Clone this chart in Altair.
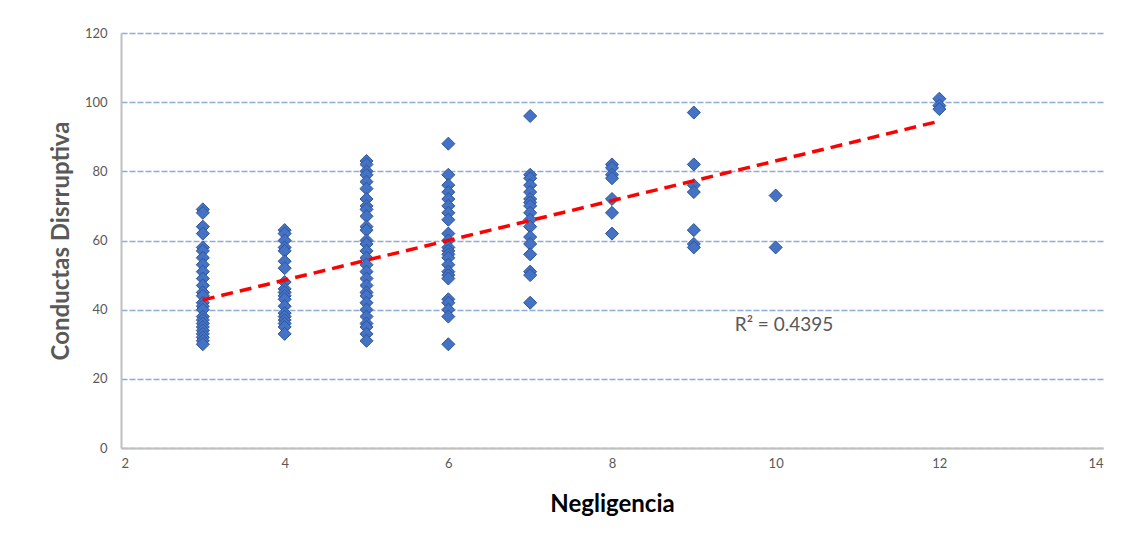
import altair as alt
import pandas as pd

# Negligencia value -> Conductas Disrruptiva values observed at that x
x3 = [69, 68, 64, 62, 58, 57, 55, 53, 51, 49, 47, 45, 44, 42, 41, 40, 38, 37, 36, 35, 34, 33, 32, 31, 30]
x4 = [63, 62, 60, 58, 57, 54, 52, 48, 46, 45, 44, 43, 41, 39, 38, 37, 36, 35, 33]
x5 = [83, 82, 80, 79, 77, 75, 72, 70, 69, 67, 64, 63, 60, 59, 57, 55, 53, 51, 49, 47, 45, 44, 42, 40, 38, 36, 35, 33, 31]
x6 = [88, 79, 76, 74, 72, 70, 68, 66, 62, 60, 58, 57, 56, 55, 53, 51, 50, 49, 43, 42, 40, 38, 30]
x7 = [96, 79, 78, 76, 74, 72, 71, 70, 68, 66, 64, 61, 59, 56, 51, 50, 42]
x8 = [82, 81, 79, 78, 72, 68, 62]
x9 = [97, 82, 76, 74, 63, 59, 58]
x10 = [73, 58]
x12 = [101, 99, 98]

trend_x = [3, 12]
trend_y = [42.8, 94.5]
r2_label = ["R² = 0.4395"]
r2_pos_x = [9.5]
r2_pos_y = [35.5]

groups = {3: x3, 4: x4, 5: x5, 6: x6, 7: x7, 8: x8, 9: x9, 10: x10, 12: x12}
rows = [{"x": k, "y": v} for k, vals in groups.items() for v in vals]
df = pd.DataFrame(rows)
trend = pd.DataFrame({"x": trend_x, "y": trend_y})
lab = pd.DataFrame({"x": r2_pos_x, "y": r2_pos_y, "t": r2_label})

FONT = "Lato"
xs = alt.Scale(domain=[2, 14], nice=False)
ys = alt.Scale(domain=[0, 120], nice=False)

points = alt.Chart(df).mark_point(
    shape="diamond", filled=True, size=170, color="#4472C4",
    stroke="#2F5597", strokeWidth=1, opacity=1
).encode(
    x=alt.X("x:Q", scale=xs, axis=alt.Axis(
        title="Negligencia", values=[2, 4, 6, 8, 10, 12, 14], format="d", grid=False,
        ticks=False, domainColor="#BFBFBF", domainWidth=2,
        labelFont=FONT, labelFontSize=13, labelColor="#595959", labelPadding=9,
        titleFont=FONT, titleFontSize=24, titleFontWeight="bold", titleColor="#000000",
        titlePadding=22)),
    y=alt.Y("y:Q", scale=ys, axis=alt.Axis(
        title="Conductas Disrruptiva", values=[0, 20, 40, 60, 80, 100, 120], format="d",
        grid=True, gridColor="#8FAADC", gridDash=[6, 2], gridWidth=1.5,
        ticks=False, domainColor="#BFBFBF", domainWidth=2,
        labelFont=FONT, labelFontSize=13, labelColor="#595959", labelPadding=14,
        titleFont=FONT, titleFontSize=24, titleFontWeight="bold", titleColor="#595959",
        titlePadding=11)),
)

line = alt.Chart(trend).mark_line(
    color="#FF0000", strokeWidth=3.5, strokeDash=[12, 7]
).encode(x=alt.X("x:Q", scale=xs), y=alt.Y("y:Q", scale=ys))

text = alt.Chart(lab).mark_text(
    font=FONT, fontSize=19, color="#595959", align="left", baseline="middle"
).encode(x=alt.X("x:Q", scale=xs), y=alt.Y("y:Q", scale=ys), text="t:N")

chart = alt.layer(points, line, text).properties(
    width=982, height=415,
    padding={"left": 113, "top": 25, "right": 20, "bottom": 90},
    autosize=alt.AutoSizeParams(type="none"),
).configure_view(stroke=None)

chart.save("out.html", embed_options={"renderer": "svg", "actions": False})
